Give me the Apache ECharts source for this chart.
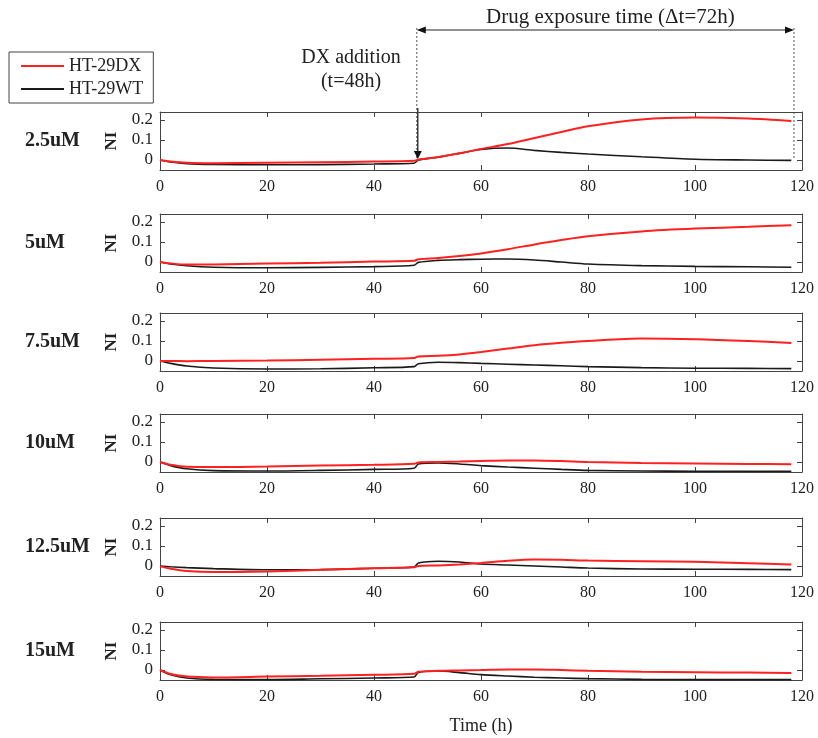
<!DOCTYPE html>
<html>
<head>
<meta charset="utf-8">
<script src="https://cdn.jsdelivr.net/npm/echarts@6/dist/echarts.min.js"></script>
<style>html,body{margin:0;padding:0;background:#fff}#c{width:818px;height:738px}</style>
</head>
<body>
<div id="c"></div>
<script>
// ---- data ----
const times = [0, 2, 5, 10, 20, 30, 40, 47.5, 48.3, 52, 56, 60, 65, 70, 75, 80, 90, 100, 110, 118];
const concentrations = ['2.5uM', '5uM', '7.5uM', '10uM', '12.5uM', '15uM'];
const xTicks = [0, 20, 40, 60, 80, 100, 120];
const yTicks = [0, 0.1, 0.2];

const dx_2_5 = [0, -0.008, -0.014, -0.016, -0.014, -0.011, -0.008, -0.004, 0.002, 0.015, 0.034, 0.055, 0.08, 0.11, 0.14, 0.169, 0.203, 0.212, 0.207, 0.195];
const wt_2_5 = [0, -0.01, -0.018, -0.022, -0.024, -0.023, -0.02, -0.016, 0.0, 0.014, 0.033, 0.053, 0.06, 0.048, 0.038, 0.03, 0.016, 0.004, 0.0, -0.002];

const dx_5 = [0, -0.007, -0.013, -0.012, -0.008, -0.004, 0.002, 0.006, 0.014, 0.02, 0.03, 0.043, 0.064, 0.088, 0.11, 0.129, 0.153, 0.167, 0.176, 0.184];
const wt_5 = [0, -0.01, -0.019, -0.026, -0.029, -0.027, -0.023, -0.016, -0.002, 0.008, 0.012, 0.014, 0.015, 0.01, 0.0, -0.01, -0.018, -0.022, -0.024, -0.026];

const dx_7_5 = [0, 0.0, -0.001, 0.0, 0.002, 0.006, 0.011, 0.015, 0.023, 0.026, 0.033, 0.045, 0.062, 0.079, 0.091, 0.1, 0.112, 0.109, 0.1, 0.09];
const wt_7_5 = [0, -0.012, -0.025, -0.035, -0.04, -0.039, -0.034, -0.028, -0.014, -0.006, -0.008, -0.012, -0.016, -0.02, -0.024, -0.028, -0.033, -0.036, -0.037, -0.038];

const dx_10 = [0, -0.014, -0.024, -0.025, -0.023, -0.018, -0.014, -0.009, -0.002, 0.0, 0.002, 0.005, 0.008, 0.008, 0.005, 0.0, -0.005, -0.008, -0.01, -0.011];
const wt_10 = [0, -0.018, -0.034, -0.043, -0.045, -0.042, -0.037, -0.031, -0.01, -0.005, -0.01, -0.018, -0.025, -0.031, -0.037, -0.042, -0.045, -0.046, -0.046, -0.046];

const dx_12_5 = [-0.002, -0.014, -0.025, -0.03, -0.027, -0.019, -0.011, -0.006, 0.0, 0.003, 0.008, 0.015, 0.026, 0.032, 0.031, 0.027, 0.024, 0.021, 0.014, 0.008];
const wt_12_5 = [0, -0.004, -0.008, -0.013, -0.019, -0.018, -0.011, -0.005, 0.015, 0.024, 0.02, 0.01, 0.005, 0.0, -0.005, -0.01, -0.015, -0.016, -0.017, -0.018];

const dx_15 = [0, -0.02, -0.033, -0.037, -0.033, -0.029, -0.024, -0.019, -0.009, -0.004, -0.002, 0.0, 0.003, 0.003, 0.0, -0.004, -0.009, -0.011, -0.013, -0.015];
const wt_15 = [0, -0.024, -0.04, -0.047, -0.048, -0.044, -0.04, -0.035, -0.012, -0.005, -0.013, -0.023, -0.03, -0.036, -0.04, -0.043, -0.047, -0.048, -0.048, -0.048];

const dxSeries = [dx_2_5, dx_5, dx_7_5, dx_10, dx_12_5, dx_15];
const wtSeries = [wt_2_5, wt_5, wt_7_5, wt_10, wt_12_5, wt_15];

// ---- layout / style ----
const FONT = 'Liberation Serif';
const tops = [112, 214, 313, 414, 518, 622];
const panelH = 58;
const axisColor = '#444';
const textColor = '#222';

const chart = echarts.init(document.getElementById('c'));

const grid = [], xAxis = [], yAxis = [], series = [];
tops.forEach((t, i) => {
  grid.push({left: 160, right: 16, top: t, height: panelH});
  const last = i === tops.length - 1;
  xAxis.push({
    type: 'value', gridIndex: i, min: 0, max: 120, interval: 20, position: 'bottom',
    axisLine: {show: true, onZero: false, lineStyle: {color: axisColor, width: 1}},
    axisTick: {show: true, inside: true, length: 5, lineStyle: {color: axisColor}},
    axisLabel: {show: true, margin: 9, fontFamily: FONT, fontSize: 16, color: textColor},
    splitLine: {show: false},
    name: last ? 'Time (h)' : '', nameLocation: 'middle', nameGap: 37,
    nameTextStyle: {fontFamily: FONT, fontSize: 18, color: textColor}
  });
  xAxis.push({
    type: 'value', gridIndex: i, min: 0, max: 120, interval: 20, position: 'top',
    axisLine: {show: true, onZero: false, lineStyle: {color: axisColor, width: 1}},
    axisTick: {show: true, inside: true, length: 5, lineStyle: {color: axisColor}},
    axisLabel: {show: false}, splitLine: {show: false}
  });
  yAxis.push({
    type: 'value', gridIndex: i, min: -0.05, max: 0.24, position: 'left',
    axisLine: {show: true, onZero: false, lineStyle: {color: axisColor, width: 1}},
    axisTick: {show: true, inside: true, length: 5, customValues: yTicks, lineStyle: {color: axisColor}},
    axisLabel: {show: true, customValues: yTicks, margin: 7, fontFamily: FONT, fontSize: 17, color: textColor,
      formatter: v => (Math.abs(v) < 1e-9 ? '0' : String(Math.round(v * 10) / 10))},
    splitLine: {show: false},
    name: 'NI', nameLocation: 'middle', nameGap: 40, nameRotate: 90,
    nameTextStyle: {fontFamily: FONT, fontSize: 17, fontWeight: 'bold', color: textColor}
  });
  yAxis.push({
    type: 'value', gridIndex: i, min: -0.05, max: 0.24, position: 'right',
    axisLine: {show: true, onZero: false, lineStyle: {color: axisColor, width: 1}},
    axisTick: {show: true, inside: true, length: 5, customValues: yTicks, lineStyle: {color: axisColor}},
    axisLabel: {show: false}, splitLine: {show: false}
  });
  series.push({
    name: 'HT-29DX', type: 'line', xAxisIndex: 2 * i, yAxisIndex: 2 * i,
    data: times.map((tt, k) => [tt, dxSeries[i][k]]),
    showSymbol: false, symbol: 'none', smooth: 0.3, z: 3,
    lineStyle: {color: '#ff2020', width: 2}, itemStyle: {color: '#ff2020'}
  });
  series.push({
    name: 'HT-29WT', type: 'line', xAxisIndex: 2 * i, yAxisIndex: 2 * i,
    data: times.map((tt, k) => [tt, wtSeries[i][k]]),
    showSymbol: false, symbol: 'none', smooth: 0.3, z: 2,
    lineStyle: {color: '#1a1a1a', width: 1.6}, itemStyle: {color: '#1a1a1a'}
  });
});

chart.setOption({
  animation: false,
  backgroundColor: '#fff',
  grid, xAxis, yAxis, series,
  legend: {
    data: ['HT-29DX', 'HT-29WT'], orient: 'vertical', left: 9, top: 52,
    icon: 'rect', itemWidth: 43, itemHeight: 2, itemGap: 5, padding: [5, 10, 5, 12],
    borderColor: '#444', borderWidth: 1, selectedMode: false,
    textStyle: {fontFamily: FONT, fontSize: 18, color: textColor, lineHeight: 18}
  }
});

// ---- annotations (positions derived from panel-1 data coordinates) ----
const pTop = chart.convertToPixel({gridIndex: 0}, [48, 0.24]);
const pA = chart.convertToPixel({gridIndex: 0}, [48, 0.0]);
const pB = chart.convertToPixel({gridIndex: 0}, [118.5, 0.0]);
const xA = pA[0], xB = pB[0];
const yArrow = 30;
const graphic = [];
const dash = {stroke: '#555', lineWidth: 1, lineDash: [2, 2]};
graphic.push({type: 'line', shape: {x1: xA, y1: yArrow - 2, x2: xA, y2: pA[1] - 2}, style: dash, silent: true});
graphic.push({type: 'line', shape: {x1: xB, y1: yArrow - 2, x2: xB, y2: pA[1] - 1}, style: dash, silent: true});
graphic.push({type: 'line', shape: {x1: xA + 2, y1: yArrow, x2: xB - 2, y2: yArrow}, style: {stroke: '#222', lineWidth: 1}, silent: true});
graphic.push({type: 'polygon', shape: {points: [[xA, yArrow], [xA + 9, yArrow - 3.5], [xA + 9, yArrow + 3.5]]}, style: {fill: '#111'}, silent: true});
graphic.push({type: 'polygon', shape: {points: [[xB, yArrow], [xB - 9, yArrow - 3.5], [xB - 9, yArrow + 3.5]]}, style: {fill: '#111'}, silent: true});
// DX addition arrow
const yHead = pA[1] - 1;
graphic.push({type: 'line', shape: {x1: xA + 1, y1: pTop[1] - 4, x2: xA + 1, y2: yHead - 6}, style: {stroke: '#111', lineWidth: 1.2}, silent: true});
graphic.push({type: 'polygon', shape: {points: [[xA + 1, yHead], [xA - 3, yHead - 8], [xA + 5, yHead - 8]]}, style: {fill: '#111'}, silent: true});
// texts
graphic.push({type: 'text', x: (xA + xB) / 2 + 5, y: 17, style: {text: 'Drug exposure time (\u0394t=72h)', font: '21px "' + FONT + '"', fill: textColor, align: 'center', verticalAlign: 'middle'}, silent: true});
graphic.push({type: 'text', x: 351, y: 58, style: {text: 'DX addition', font: '20px "' + FONT + '"', fill: textColor, align: 'center', verticalAlign: 'middle'}, silent: true});
graphic.push({type: 'text', x: 351, y: 82, style: {text: '(t=48h)', font: '20px "' + FONT + '"', fill: textColor, align: 'center', verticalAlign: 'middle'}, silent: true});
tops.forEach((t, i) => {
  graphic.push({type: 'text', x: 25, y: t + 29, style: {text: concentrations[i], font: 'bold 20px "' + FONT + '"', fill: textColor, align: 'left', verticalAlign: 'middle'}, silent: true});
});
chart.setOption({graphic});
</script>
</body>
</html>
